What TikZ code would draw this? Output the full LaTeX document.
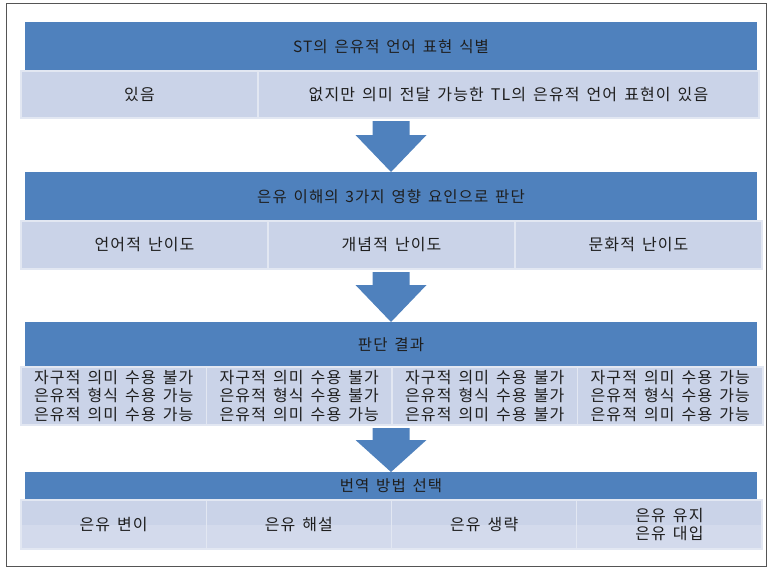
\documentclass[tikz,border=0pt]{standalone}
\usepackage{fontspec}
\newfontfamily\kr[WordSpace=1.5,LetterSpace=7]{Noto Sans CJK KR}
\usetikzlibrary{calc}
\definecolor{barblue}{HTML}{4F81BD}
\definecolor{cellblue}{HTML}{CAD3E8}
\definecolor{celllow}{HTML}{D3DAEC}
\definecolor{cellline}{HTML}{E2E7F2}
\definecolor{framec}{HTML}{555555}
\definecolor{txt}{HTML}{1E1E1E}
\newcommand\blockarrow[3]{%
  \fill[barblue] let \p1=(#1.south), \p2=(#2.north) in
    (\x2-18.5pt,\y1-3pt) -- (\x2+18.5pt,\y1-3pt) -- (\x2+18.5pt,\y2+#3) --
    (\x2+35.5pt,\y2+#3) -- (\x2,\y2) -- (\x2-35.5pt,\y2+#3) --
    (\x2-18.5pt,\y2+#3) -- cycle;}
\begin{document}
\begin{tikzpicture}[x=1pt,y=-1pt,
  bar/.style={fill=barblue, draw=none, inner sep=0pt, outer sep=0pt, anchor=north west,
    minimum width=732pt, text=txt, font=\kr\fontsize{15.5}{18}\selectfont},
  cell/.style={fill=cellblue, draw=cellline, line width=1.2pt, inner sep=0pt, outer sep=0pt,
    anchor=north west, text=txt, align=center, font=\kr\fontsize{16}{18.2}\selectfont},
  lowband/.style={path picture={\fill[celllow] (path picture bounding box.west) rectangle (path picture bounding box.south east);}}]
\useasboundingbox (0,0) rectangle (767,568);
\draw[framec, line width=1pt] (6,3) rectangle (766,566);

% section 1
\node[bar, minimum height=49pt] (b1) at (25,22) {ST의 은유적 언어 표현 식별};
\node[cell, minimum width=237pt, minimum height=47pt] (r1a) at (21,71) {있음};
\node[cell, minimum width=501pt, minimum height=47pt] (r1b) at (258,71) {없지만 의미 전달 가능한 TL의 은유적 언어 표현이 있음};

% section 2
\node[bar, minimum height=49pt] (b2) at (25,172) {은유 이해의 3가지 영향 요인으로 판단};
\node[cell, minimum width=247pt, minimum height=48pt] (r2a) at (21,221) {언어적 난이도};
\node[cell, minimum width=247pt, minimum height=48pt] (r2b) at (268,221) {개념적 난이도};
\node[cell, minimum width=247pt, minimum height=48pt] (r2c) at (515,221) {문화적 난이도};

% section 3
\node[bar, minimum height=45pt] (b3) at (25,322) {판단 결과};
\node[cell, minimum width=185.5pt, minimum height=58pt] (r3a) at (21,367) {자구적 의미 수용 불가\\은유적 형식 수용 가능\\은유적 의미 수용 가능};
\node[cell, minimum width=185.5pt, minimum height=58pt] (r3b) at (206.5,367) {자구적 의미 수용 불가\\은유적 형식 수용 불가\\은유적 의미 수용 가능};
\node[cell, minimum width=185.5pt, minimum height=58pt] (r3c) at (392,367) {자구적 의미 수용 불가\\은유적 형식 수용 불가\\은유적 의미 수용 불가};
\node[cell, minimum width=185.5pt, minimum height=58pt] (r3d) at (577.5,367) {자구적 의미 수용 가능\\은유적 형식 수용 가능\\은유적 의미 수용 가능};

% section 4
\node[bar, minimum height=28pt] (b4) at (25,472) {번역 방법 선택};
\node[cell, lowband, minimum width=185.25pt, minimum height=49pt] (r4a) at (21,500) {은유 변이};
\node[cell, lowband, minimum width=185.25pt, minimum height=49pt] (r4b) at (206.25,500) {은유 해설};
\node[cell, lowband, minimum width=185.25pt, minimum height=49pt] (r4c) at (391.5,500) {은유 생략};
\node[cell, lowband, minimum width=185.25pt, minimum height=49pt] (r4d) at (576.75,500) {은유 유지\\은유 대입};

% arrows
\blockarrow{r1b}{b2}{37pt}
\blockarrow{r2b}{b3}{37pt}
\blockarrow{r3b}{b4}{32pt}
\end{tikzpicture}
\end{document}
